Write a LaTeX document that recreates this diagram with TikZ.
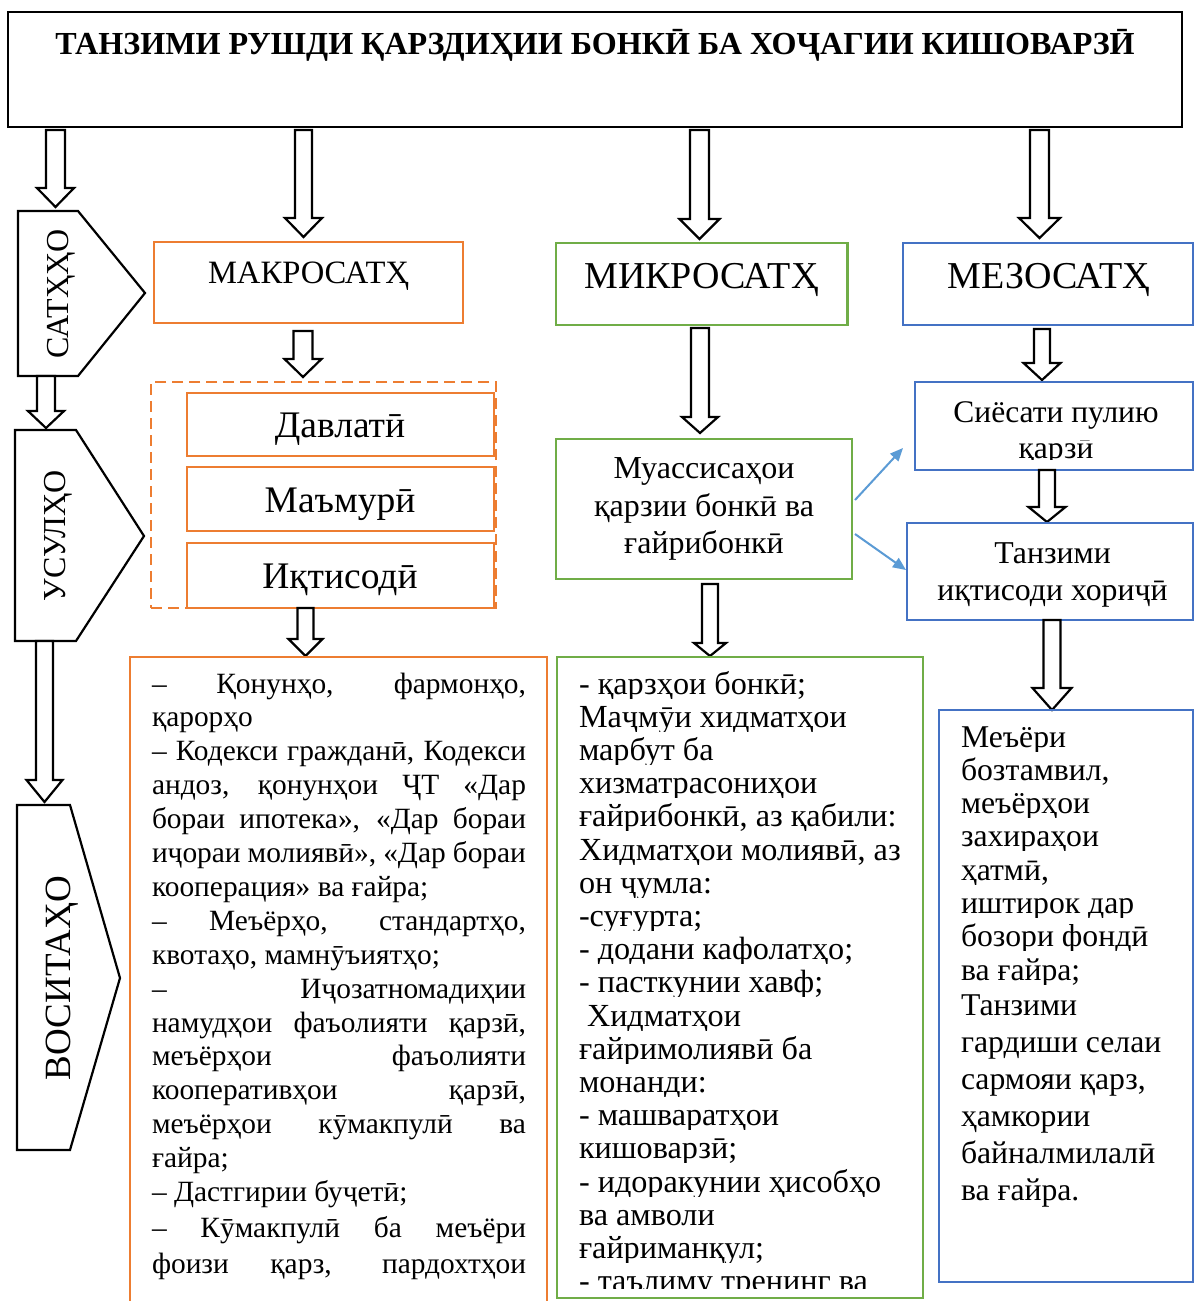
\documentclass[tikz,border=0pt]{standalone}
\usepackage{fontspec}
\setmainfont{Liberation Serif}
\usetikzlibrary{arrows.meta}
\definecolor{cOr}{HTML}{ED7D31}
\definecolor{cGr}{HTML}{70AD47}
\definecolor{cBl}{HTML}{4472C4}
\definecolor{cLb}{HTML}{5B9BD5}
\tikzset{
 frame/.style={draw, line width=2.4pt, inner sep=0pt, outer sep=0pt},
 obox/.style={frame, draw=cOr},
 gbox/.style={frame, draw=cGr},
 bbox/.style={frame, draw=cBl},
 kbox/.style={frame, draw=black},
 harrow/.style={draw=black, line width=2.2pt, fill=white, line join=miter},
 txt/.style={inner sep=0pt, outer sep=0pt, anchor=base},
 thinarrow/.style={draw=cLb, line width=2pt, -{Triangle[length=13pt,width=11pt]}},
 pent/.style={draw=black, line width=2.2pt, fill=white, line join=miter},
}
\newcommand\hollow[6]{\draw[harrow] (#1-#5,#2) -- (#1-#5,#3) -- (#1-#6,#3) -- (#1,#4) -- (#1+#6,#3) -- (#1+#5,#3) -- (#1+#5,#2) -- cycle;}
\newcommand\ofont{\fontsize{29.4}{34}\selectfont}
\newcommand\gfont{\fontsize{32.2}{33}\selectfont}
\newcommand\bfont{\fontsize{31.7}{33}\selectfont}
\newcommand\olineat[4]{\node[txt, anchor=base west, font=\ofont] (o#1) at (152,#4) {\makebox[374pt][#2]{#3}};}
\newcommand\oline[3]{\olineat{#1}{#2}{#3}{{693+(#1-1)*33.9}}}
\newcommand\gline[3]{\begin{scope}\clip (560,{694+(#1-1)*33.2-28}) rectangle (920,{694+(#1-1)*33.2+4});
 \node[txt, anchor=base west, font=\gfont] (g#1) at ({579+#2},{694+(#1-1)*33.2}) {#3};\end{scope}}
\newcommand\bline[2]{\begin{scope}\clip (942,{747+(#1-1)*33.3-28}) rectangle (1190,{747+(#1-1)*33.3+4});
 \node[txt, anchor=base west, font=\bfont] (b#1) at (961,{747+(#1-1)*33.3}) {#2};\end{scope}}
\newcommand\blinefree[2]{\node[txt, anchor=base west, font=\bfont] (b#1) at (961,{1015+(#1-9)*37}) {#2};}
\begin{document}
\begin{tikzpicture}[x=1pt,y=-1pt]
\clip (0,0) rectangle (1194,1301);
\fill[white] (0,0) rectangle (1194,1301);
% title
\node[kbox, minimum width=1174, minimum height=115] (title) at (595,69.5) {};
\node[txt, font=\bfseries\fontsize{32.1}{38}\selectfont] (titletext) at (595,54) {ТАНЗИМИ РУШДИ ҚАРЗДИҲИИ БОНКӢ БА ХОҶАГИИ КИШОВАРЗӢ};
% hollow arrows from title
\hollow{55.5}{130}{188}{207}{9.5}{18.5}
\hollow{303.5}{130}{218}{237}{8.5}{18.5}
\hollow{699.5}{130}{219}{239}{9.5}{20}
\hollow{1039.5}{130}{218}{238}{9.5}{20.5}
% left pentagons
\draw[pent] (18,211) -- (78,211) -- (145,293) -- (78,376) -- (18,376) -- cycle;
\node[txt, anchor=center, rotate=90, font=\fontsize{32}{36}\selectfont] (satho) at (61,294) {САТҲҲО};
\hollow{46}{376}{411}{428}{9}{18}
\draw[pent] (15,430) -- (76,430) -- (144,536) -- (76,641) -- (15,641) -- cycle;
\node[txt, anchor=center, rotate=90, font=\fontsize{32}{36}\selectfont] (usulho) at (58,536) {УСУЛҲО};
\hollow{44.5}{641}{780}{802}{8.5}{18}
\draw[pent] (17,805) -- (70,805) -- (120,978) -- (70,1150) -- (17,1150) -- cycle;
\node[txt, anchor=center, rotate=90, font=\fontsize{37}{40}\selectfont] (vositaho) at (62,978) {ВОСИТАҲО};
% level boxes
\node[obox, minimum width=309, minimum height=81] (macro) at (308.5,282.5) {};
\node[txt, font=\fontsize{32.6}{36}\selectfont] (macrot) at (308.5,283) {МАКРОСАТҲ};
\node[gbox, minimum width=291.5, minimum height=82] (micro) at (701.75,284) {};
\node[txt, font=\fontsize{38}{40}\selectfont] (microt) at (701.5,288) {МИКРОСАТҲ};
\node[bbox, minimum width=290, minimum height=82] (mezo) at (1048,284) {};
\node[txt, font=\fontsize{38}{40}\selectfont] (mezot) at (1049,288) {МЕЗОСАТҲ};
% macro branch
\hollow{303}{331}{359}{377}{9.5}{18.5}
\node[draw=cOr, line width=2.4pt, dash pattern=on 11pt off 6pt, minimum width=345, minimum height=226, inner sep=0pt] (group) at (323.5,495) {};
\node[obox, minimum width=307, minimum height=63] (davlati) at (340.5,424.5) {};
\node[txt, font=\fontsize{37.5}{40}\selectfont] (davlatit) at (340,437) {Давлатӣ};
\node[obox, minimum width=307, minimum height=64] (mamuri) at (340.5,499) {};
\node[txt, font=\fontsize{37.5}{40}\selectfont] (mamurit) at (340,512) {Маъмурӣ};
\node[obox, minimum width=307, minimum height=65] (iqtisodi) at (340.5,575.5) {};
\node[txt, font=\fontsize{37.5}{40}\selectfont] (iqtisodit) at (340,588) {Иқтисодӣ};
\hollow{305.5}{608}{639}{656}{8}{17}
% micro branch
\hollow{700}{328}{417}{433}{9}{18}
\node[gbox, minimum width=296, minimum height=140] (muas) at (704,509) {};
\node[txt, font=\fontsize{32}{36}\selectfont] (muas1) at (704,478) {Муассисаҳои};
\node[txt, font=\fontsize{32}{36}\selectfont] (muas2) at (704,516) {қарзии бонкӣ ва};
\node[txt, font=\fontsize{32}{36}\selectfont] (muas3) at (704,553) {ғайрибонкӣ};
\hollow{710}{584}{643}{656}{8}{16}
% mezo branch
\hollow{1042}{329}{363}{380}{8}{18.5}
\node[bbox, minimum width=278, minimum height=88] (siyosat) at (1054,426) {};
\node[txt, font=\fontsize{31.5}{36}\selectfont] (siyosat1) at (1056,422) {Сиёсати пулию};
\begin{scope}\clip (916,440) rectangle (1192,459.5);
\node[txt, font=\fontsize{31.5}{36}\selectfont] (siyosat2) at (1056,458) {қарзӣ};
\end{scope}
\hollow{1047}{470}{507}{522}{8}{18.5}
\node[bbox, minimum width=286, minimum height=97] (tanzim) at (1050,571.5) {};
\node[txt, font=\fontsize{31.8}{36}\selectfont] (tanzim1) at (1052.5,563) {Танзими};
\node[txt, font=\fontsize{31.8}{36}\selectfont] (tanzim2) at (1052.5,600) {иқтисоди хориҷӣ};
\hollow{1052}{620}{688}{710}{8.5}{19.5}
% thin arrows
\coordinate (t1s) at (855,500); \coordinate (t1e) at (903,448);
\coordinate (t2s) at (855,534); \coordinate (t2e) at (906,570);
\draw[thinarrow] (t1s) -- (t1e);
\draw[thinarrow] (t2s) -- (t2e);
% bottom boxes
\node[obox, minimum width=417, minimum height=663] (obottom) at (338.5,988.5) {};
\node[gbox, minimum width=366, minimum height=641] (gbottom) at (740,977.5) {};
\node[bbox, minimum width=254, minimum height=572] (bbottom) at (1066,996) {};
% orange text
\oline{1}{s}{– Қонунҳо, фармонҳо,}
\oline{2}{l}{қарорҳо}
\oline{3}{s}{– Кодекси гражданӣ, Кодекси}
\oline{4}{s}{андоз, қонунҳои ҶТ «Дар}
\oline{5}{s}{бораи ипотека», «Дар бораи}
\oline{6}{s}{иҷораи молиявӣ», «Дар бораи}
\oline{7}{l}{кооперация» ва ғайра;}
\oline{8}{s}{– Меъёрҳо, стандартҳо,}
\oline{9}{l}{квотаҳо, мамнӯъиятҳо;}
\oline{10}{s}{– Иҷозатномадиҳии}
\oline{11}{s}{намудҳои фаъолияти қарзӣ,}
\oline{12}{s}{меъёрҳои фаъолияти}
\oline{13}{s}{кооперативҳои қарзӣ,}
\oline{14}{s}{меъёрҳои кӯмакпулӣ ва}
\oline{15}{l}{ғайра;}
\oline{16}{l}{– Дастгирии буҷетӣ;}
\olineat{17}{s}{– Кӯмакпулӣ ба меъёри}{1237}
\olineat{18}{s}{фоизи қарз, пардохтҳои}{1273}
% green text
\gline{1}{0}{- қарзҳои бонкӣ;}
\gline{2}{0}{Маҷмӯи хидматҳои}
\gline{3}{0}{марбут ба}
\gline{4}{0}{хизматрасониҳои}
\gline{5}{0}{ғайрибонкӣ, аз қабили:}
\gline{6}{0}{Хидматҳои молиявӣ, аз}
\gline{7}{0}{он ҷумла:}
\gline{8}{0}{-суғурта;}
\gline{9}{0}{- додани кафолатҳо;}
\gline{10}{0}{- пасткунии хавф;}
\gline{11}{8}{Хидматҳои}
\gline{12}{0}{ғайримолиявӣ ба}
\gline{13}{0}{монанди:}
\gline{14}{0}{- машваратҳои}
\gline{15}{0}{кишоварзӣ;}
\gline{16}{0}{- идоракунии ҳисобҳо}
\gline{17}{0}{ва амволи}
\gline{18}{0}{ғайриманқул;}
\begin{scope}\clip (560,1270) rectangle (920,1288);
\node[txt, anchor=base west, font=\gfont] (g19) at (579,1291.6) {- таълиму тренинг ва};
\end{scope}
% blue text
\bline{1}{Меъёри}
\bline{2}{бозтамвил,}
\bline{3}{меъёрҳои}
\bline{4}{захираҳои}
\bline{5}{ҳатмӣ,}
\bline{6}{иштирок дар}
\bline{7}{бозори фондӣ}
\bline{8}{ва ғайра;}
\blinefree{9}{Танзими}
\blinefree{10}{гардиши селаи}
\blinefree{11}{сармояи қарз,}
\blinefree{12}{ҳамкории}
\blinefree{13}{байналмилалӣ}
\blinefree{14}{ва ғайра.}
\end{tikzpicture}
\end{document}
